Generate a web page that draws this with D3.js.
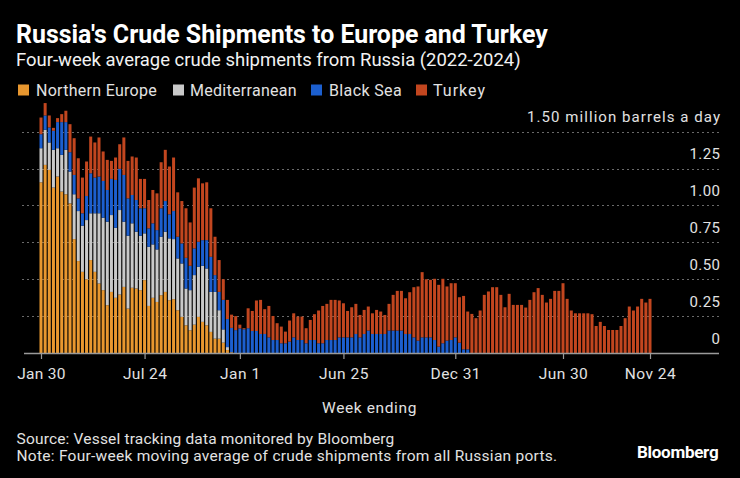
<!DOCTYPE html>
<html><head><meta charset="utf-8">
<script src="https://cdn.jsdelivr.net/npm/d3@7"></script>
<style>
html,body{margin:0;padding:0;background:#000;}
svg{display:block;font-family:Roboto,"Noto Sans",sans-serif;}
</style></head>
<body>
<svg id="c" width="740" height="478"></svg>
<script>
const seriesNames = ["Northern Europe","Mediterranean","Black Sea","Turkey"];
const seriesColors = ["#e8972f","#c9c9c9","#1c5fcf","#c2461f"];
const startWeek = "2022-01-30";
const tickDates = ["2022-01-30","2022-07-24","2023-01-01","2023-06-25","2023-12-31","2024-06-30","2024-11-24"];
const tickLabels = ["Jan 30","Jul 24","Jan 1","Jun 25","Dec 31","Jun 30","Nov 24"];
const yTicks = [0,0.25,0.5,0.75,1.0,1.25,1.5];
const yTickLabels = ["0","0.25","0.50","0.75","1.00","1.25","1.50 million barrels a day"];

const northernEurope = [1.157,1.275,1.241,1.121,1.196,1.094,1.076,1.014,0.772,0.623,0.550,0.500,0.630,0.550,0.471,0.426,0.324,0.414,0.374,0.396,0.448,0.301,0.442,0.437,0.426,0.494,0.319,0.374,0.346,0.392,0.414,0.358,0.365,0.290,0.245,0.188,0.154,0.192,0.245,0.211,0.188,0.143,0.097,0.097,0.07,0.02,0.005,0,0,
0,0,0,0,0,0,0,0,0,0,0,0,0,0,0,0,0,0,0,0,0,0,0,0,0,0,0,0,0,0,0,0,0,0,0,0,0,0,0,0,0,0,0,0,0,0,0,0,0,0,0,0,0,0,0,
0,0,0,0,0,0,0,0,0,0,0,0,0,0,0,0,0,0,0,0,0,0,0,0,0,0,0,0,0,0,0,0,0,0,0,0,0,0,0,0,0,0,0,0];
const mediterranean = [0.231,0.238,0.186,0.256,0.192,0.249,0.301,0.216,0.304,0.339,0.313,0.401,0.317,0.397,0.476,0.491,0.566,0.521,0.475,0.573,0.442,0.494,0.437,0.385,0.369,0.317,0.401,0.362,0.356,0.396,0.408,0.419,0.407,0.351,0.362,0.249,0.272,0.336,0.339,0.380,0.385,0.271,0.317,0.193,0.09,0.02,0,0,0,
0,0,0,0,0,0,0,0,0,0,0,0,0,0,0,0,0,0,0,0,0,0,0,0,0,0,0,0,0,0,0,0,0,0,0,0,0,0,0,0,0,0,0,0,0,0,0,0,0,0,0,0,0,0,0,
0,0,0,0,0,0,0,0,0,0,0,0,0,0,0,0,0,0,0,0,0,0,0,0,0,0,0,0,0,0,0,0,0,0,0,0,0,0,0,0,0,0,0,0];
const blackSea = [0.095,0.097,0.102,0.129,0.177,0.222,0.188,0.131,0.131,0.086,0.084,0.163,0.271,0.242,0.249,0.249,0.215,0.245,0.324,0.279,0.317,0.253,0.192,0.215,0.186,0.170,0.125,0.143,0.131,0.193,0.208,0.163,0.190,0.147,0.136,0.208,0.165,0.181,0.170,0.174,0.192,0.238,0.114,0.124,0.20,0.19,0.165,0.155,0.167,
0.161,0.168,0.149,0.149,0.129,0.129,0.106,0.088,0.088,0.066,0.066,0.077,0.106,0.088,0.088,0.066,0.088,0.088,0.066,0.066,0.088,0.088,0.088,0.106,0.106,0.106,0.106,0.129,0.106,0.129,0.152,0.129,0.129,0.129,0.129,0.152,0.152,0.152,0.152,0.129,0.129,0.106,0.084,0.106,0.106,0.106,0.088,0.043,0.066,0.084,0.088,0.106,0.070,0.025,0.025,
0,0,0,0,0,0,0,0,0,0,0,0,0,0,0,0,0,0,0,0,0,0,0,0,0,0,0,0,0,0,0,0,0,0,0,0,0,0,0,0,0,0,0,0];
const turkey = [0.113,0.084,0.081,0.02,0.027,0.054,0.077,0.190,0.249,0.272,0.242,0.234,0.249,0.238,0.265,0.200,0.204,0.122,0.152,0.167,0.254,0.254,0.261,0.288,0.199,0.199,0.192,0.226,0.249,0.312,0.347,0.324,0.363,0.301,0.287,0.336,0.294,0.412,0.430,0.385,0.392,0.329,0.260,0.216,0.14,0.13,0.09,0.095,0.025,
0.007,0.135,0.136,0.207,0.231,0.168,0.213,0.163,0.114,0.113,0.079,0.143,0.163,0.159,0.159,0.102,0.136,0.175,0.222,0.253,0.245,0.272,0.272,0.250,0.231,0.179,0.204,0.204,0.152,0.163,0.163,0.140,0.163,0.152,0.129,0.181,0.242,0.269,0.269,0.242,0.283,0.340,0.367,0.442,0.394,0.390,0.415,0.419,0.437,0.367,0.385,0.367,0.308,0.362,0.256,
0.265,0.236,0.288,0.394,0.417,0.446,0.446,0.394,0.310,0.401,0.326,0.326,0.326,0.308,0.360,0.412,0.440,0.394,0.342,0.367,0.421,0.421,0.473,0.367,0.288,0.269,0.269,0.269,0.269,0.263,0.183,0.211,0.183,0.156,0.156,0.156,0.183,0.236,0.315,0.288,0.315,0.367,0.342,0.367];

const parse = d3.utcParse("%Y-%m-%d");
const t0 = parse(startWeek);
const rows = turkey.map((_, i) => ({
  date: d3.utcDay.offset(t0, 7 * i),
  ne: northernEurope[i], med: mediterranean[i], bs: blackSea[i], tk: turkey[i]
}));
const keys = ["ne","med","bs","tk"];
const stack = d3.stack().keys(keys)(rows);

const svg = d3.select("#c");
svg.append("rect").attr("width",740).attr("height",478).attr("fill","#000");

const x = d3.scaleUtc().domain([parse(tickDates[0]), parse(tickDates[tickDates.length-1])]).range([41, 650]);
const y = d3.scaleLinear().domain([0, 1.5]).range([353, 131.7]);

const TXT = "#e2e2e2";
function fitSize(sel, target) {
  const w = sel.node().getComputedTextLength();
  const fs = parseFloat(sel.attr("font-size"));
  sel.attr("font-size", (fs * target / w).toFixed(2));
  return sel;
}
function fitLS(sel, target) {
  sel.attr("letter-spacing", 0);
  const w = sel.node().getComputedTextLength();
  const n = sel.text().length;
  sel.attr("letter-spacing", ((target - w) / n).toFixed(3));
  return sel;
}

// gridlines
svg.append("g").selectAll("line").data(yTicks.filter(v => v > 0)).join("line")
  .attr("x1", 22).attr("x2", 720)
  .attr("y1", d => Math.round(y(d)) + 0.5).attr("y2", d => Math.round(y(d)) + 0.5)
  .attr("stroke", "#6a6a6a").attr("stroke-width", 1).attr("stroke-dasharray", "2,3");

// y labels
const yl = svg.append("g").attr("fill", TXT);
const yW = {"0": 8, "0.25": 31, "0.50": 31, "0.75": 31, "1.00": 31, "1.25": 31};
yTicks.forEach((v, i) => {
  const lab = yTickLabels[i];
  const t = yl.append("text").attr("y", y(v) - 9.5).attr("font-size", 15).text(lab);
  const target = i === yTicks.length - 1 ? 194 : yW[lab];
  fitLS(t, target);
  const w = t.node().getComputedTextLength();
  t.attr("x", 720 - w + parseFloat(t.attr("letter-spacing")));
});

// bars
const bw = 3;
svg.append("g").selectAll("g").data(stack).join("g")
  .attr("fill", (d, i) => seriesColors[i])
  .selectAll("rect").data(d => d).join("rect")
  .attr("x", d => x(d.data.date) - bw / 2)
  .attr("width", bw)
  .attr("y", d => y(d[1]))
  .attr("height", d => Math.max(0, y(d[0]) - y(d[1])));

// x axis
const xa = svg.append("g").attr("transform", "translate(0,353)");
xa.append("line").attr("x1", 24).attr("x2", 719).attr("y1", 0.5).attr("y2", 0.5).attr("stroke", "#9a9a9a").attr("stroke-width", 1.5);
const xAxis = d3.axisBottom(x).tickValues(tickDates.map(parse)).tickFormat((d, i) => tickLabels[i]).tickSize(6).tickPadding(9);
const xg = svg.append("g").attr("transform", "translate(0,353)").call(xAxis);
xg.select(".domain").remove();
xg.selectAll(".tick line").attr("stroke", "#9a9a9a").attr("stroke-width", 1.2);
const xW = [48.6, 44.3, 40.6, 50, 50.5, 49.5, 51.4];
xg.selectAll(".tick text").attr("fill", TXT).attr("font-size", 15.5).attr("font-family", "Roboto")
  .each(function(d, i) { fitLS(d3.select(this), xW[i]); });

fitLS(svg.append("text").attr("x", 322).attr("y", 413).attr("fill", TXT).attr("font-size", 15.5).text("Week ending"), 95);

// titles
fitSize(svg.append("text").attr("x", 16).attr("y", 43).attr("fill", "#fff").attr("font-weight", "bold").attr("font-size", 21)
  .text("Russia's Crude Shipments to Europe and Turkey"), 532);
fitSize(svg.append("text").attr("x", 16).attr("y", 66).attr("fill", "#f2f2f2").attr("font-size", 17)
  .text("Four-week average crude shipments from Russia (2022-2024)"), 505);

// legend
const legX = [18, 173, 311, 416];
const legTX = [36, 190, 329, 433];
const legW = [121, 107, 73, 53];
seriesNames.forEach((n, i) => {
  svg.append("rect").attr("x", legX[i]).attr("y", 84.5).attr("width", 11).attr("height", 11).attr("fill", seriesColors[i]);
  fitLS(svg.append("text").attr("x", legTX[i]).attr("y", 96).attr("fill", TXT).attr("font-size", 16).text(n), legW[i]);
});

// footer
fitLS(svg.append("text").attr("x", 16.5).attr("y", 444).attr("fill", TXT).attr("font-size", 15.5)
  .text("Source: Vessel tracking data monitored by Bloomberg"), 378);
fitLS(svg.append("text").attr("x", 16.5).attr("y", 461).attr("fill", TXT).attr("font-size", 15.5)
  .text("Note: Four-week moving average of crude shipments from all Russian ports."), 541);
fitSize(svg.append("text").attr("x", 637).attr("y", 458).attr("fill", "#fff").attr("font-weight", "bold").attr("font-size", 15)
  .attr("letter-spacing", "-0.3").text("Bloomberg"), 81);
</script>
</body></html>
